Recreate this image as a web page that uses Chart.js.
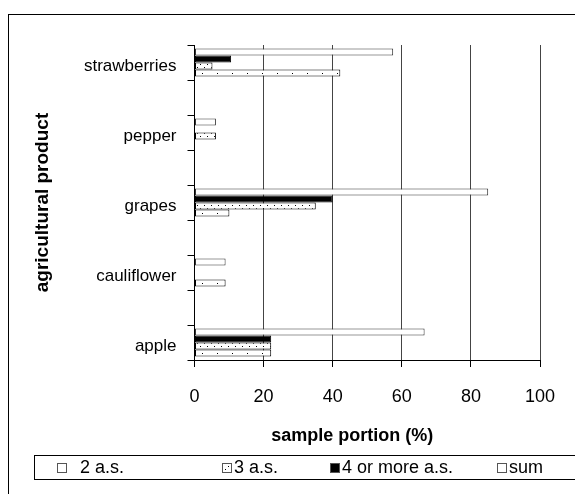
<!DOCTYPE html>
<html>
<head>
<meta charset="utf-8">
<script src="https://cdn.jsdelivr.net/npm/chart.js@4"></script>
<style>
  html, body { margin: 0; padding: 0; background: #fff; }
</style>
</head>
<body>
<canvas id="chart" width="575" height="494"></canvas>
<script>
// Data (empty categories keep the gaps between products)
const categories = ["strawberries", "", "pepper", "", "grapes", "", "cauliflower", "", "apple"];
const sumValues = [57.5, null, 6.2, null, 85, null, 9, null, 66.6];
const fourPlusValues = [10.6, null, null, null, 40, null, null, null, 22.2];
const threeValues = [5.2, null, 6.2, null, 35.1, null, null, null, 22.2];
const twoValues = [42.2, null, null, null, 10.1, null, 9, null, 22.2];
const xTicks = [0, 20, 40, 60, 80, 100];

const FONT = "Arial, 'Liberation Sans', sans-serif";

// Fill patterns
function makePattern(w, h, dots) {
  const c = document.createElement("canvas");
  c.width = w;
  c.height = h;
  const g = c.getContext("2d");
  g.fillStyle = "#fff";
  g.fillRect(0, 0, w, h);
  g.fillStyle = "#000";
  dots.forEach(([x, y]) => g.fillRect(x, y, 1, 1));
  return document.createElement("canvas").getContext("2d").createPattern(c, "repeat");
}
const sparseDots = makePattern(15, 7, [[7, 3]]);
const denseDots = makePattern(7, 6, [[1, 1], [4, 4]]);

// Frames + legend drawn after the chart
const legendBoxX = [57, 222, 330, 497];
const legendTextGap = [23, 12, 12, 12];
const framePlugin = {
  id: "frames",
  afterDraw(chart) {
    const ctx = chart.ctx;
    ctx.save();
    ctx.strokeStyle = "#000";
    ctx.lineWidth = 1;
    ctx.strokeRect(8.5, 14.5, 700, 700);
    ctx.strokeRect(34.5, 455.5, 700, 24);
    ctx.font = "18px " + FONT;
    ctx.textBaseline = "middle";
    const y = 468;
    chart.data.datasets.slice().reverse().forEach((ds, i) => {
      const x = legendBoxX[i];
      ctx.fillStyle = ds.backgroundColor;
      ctx.fillRect(x, y - 5, 10, 10);
      ctx.strokeStyle = "#555";
      ctx.strokeRect(x + 0.5, y - 4.5, 9, 9);
      ctx.fillStyle = "#000";
      ctx.fillText(ds.label, x + legendTextGap[i], y);
    });
    ctx.restore();
  },
};

const ctx = document.getElementById("chart").getContext("2d");
new Chart(ctx, {
  type: "bar",
  data: {
    labels: categories,
    datasets: [
      { label: "sum", data: sumValues, backgroundColor: "#fff", borderColor: "#333" },
      { label: "4 or more a.s.", data: fourPlusValues, backgroundColor: "#000", borderColor: "#000" },
      { label: "3 a.s.", data: threeValues, backgroundColor: denseDots, borderColor: "#000" },
      { label: "2 a.s.", data: twoValues, backgroundColor: sparseDots, borderColor: "#000" },
    ],
  },
  options: {
    indexAxis: "y",
    responsive: false,
    animation: false,
    layout: { padding: { left: 0, top: 45, right: 35, bottom: 39 } },
    datasets: {
      bar: { barPercentage: 1, categoryPercentage: 0.8, borderWidth: 1, borderSkipped: false },
    },
    plugins: { legend: { display: false }, tooltip: { enabled: false } },
    scales: {
      x: {
        type: "linear",
        min: 0,
        max: 100,
        afterBuildTicks: (s) => { s.ticks = xTicks.map((v) => ({ value: v })); },
        afterFit: (s) => { s.height = 95; },
        grid: { color: "#444", tickColor: "#000", tickLength: 7 },
        border: { color: "#000" },
        ticks: { color: "#000", padding: 19, font: { family: FONT, size: 18 } },
        title: {
          display: true,
          text: "sample portion (%)      ",
          color: "#000",
          padding: { top: 0, bottom: 8 },
          font: { family: FONT, size: 18, weight: "bold" },
        },
      },
      y: {
        afterFit: (s) => { s.width = 194.5; },
        grid: { display: true, drawOnChartArea: false, tickColor: "#000", tickLength: 7, offset: true },
        border: { color: "#000" },
        ticks: { color: "#000", padding: 11, labelOffset: 4, autoSkip: false, font: { family: FONT, size: 17 } },
        title: {
          display: true,
          text: "agricultural product",
          color: "#000",
          padding: { top: 31, bottom: 0 },
          font: { family: FONT, size: 19, weight: "bold" },
        },
      },
    },
  },
  plugins: [framePlugin],
});
</script>
</body>
</html>
